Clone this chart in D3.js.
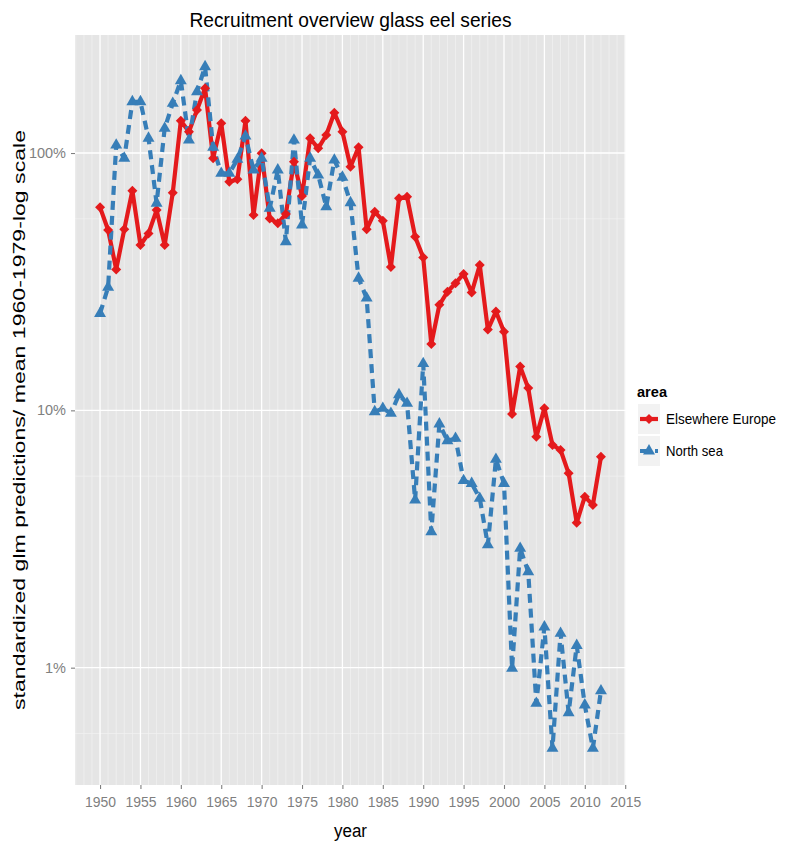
<!DOCTYPE html>
<html>
<head>
<meta charset="utf-8">
<script src="https://cdn.jsdelivr.net/npm/d3@7"></script>
<style>
  body { margin: 0; background: #ffffff; }
  text { font-family: "Liberation Sans", Arial, sans-serif; }
</style>
</head>
<body>
<svg id="chart" width="785" height="844"></svg>
<script>
// ---- data (percent of 1960-1979 mean) ----
const years = d3.range(1950, 2013);
const elsewhereEurope = [
  61.5, 50.2, 35.3, 50.5, 71.4, 43.9, 48.7, 60.0, 43.9, 70.1,
  133.5, 121, 146.9, 178.4, 95.4, 130.4, 77.4, 79.0, 133.5, 57.4,
  99.7, 55.7, 53.3, 57.9, 92.5, 68.1, 114.1, 104.3, 117.5, 143.4,
  121, 88.5, 105.2, 50.5, 59.1, 54.6, 36.1, 66.7, 67.6, 47.3,
  39.3, 18.1, 25.7, 28.9, 31.2, 33.9, 28.7, 36.7, 20.6, 24.2,
  20.2, 9.67, 14.8, 12.2, 7.89, 10.2, 7.33, 7.01, 5.69, 3.66,
  4.62, 4.29, 6.60
];
const northSea = [
  23.8, 30.1, 107.4, 95.4, 158.2, 158.2, 114.1, 63.8, 124.7, 156,
  191, 112.3, 173.1, 216.4, 105.2, 83.4, 83.4, 94.5, 116.4, 85.9,
  95.4, 61.0, 85.9, 45.2, 112.3, 52.5, 95.4, 82.1, 61.8, 93.9,
  80.5, 64.1, 32.6, 27.3, 9.88, 10.18, 9.74, 11.5, 10.65, 4.48,
  15.2, 3.37, 8.85, 7.62, 7.78, 5.33, 5.20, 4.55, 3.00, 6.45,
  5.20, 0.994, 2.91, 2.36, 0.727, 1.44, 0.486, 1.36, 0.668, 1.22,
  0.716, 0.486, 0.813
];
const seriesNames = ["Elsewhere Europe", "North sea"];
const seriesColors = ["#E41A1C", "#377EB8"];
const xTickYears = d3.range(1950, 2016, 5);
const yTickValues = [1, 10, 100];
const yTickLabels = ["1%", "10%", "100%"];
const yMinorValues = [0.555, 5.55, 55.5];

const series = [
  { name: seriesNames[0], color: seriesColors[0], values: elsewhereEurope, shape: "diamond", dash: null },
  { name: seriesNames[1], color: seriesColors[1], values: northSea, shape: "triangle", dash: "9,6" }
];

// ---- layout ----
const svg = d3.select("#chart");
const panel = { left: 75, right: 626, top: 35, bottom: 785 };

const x = d3.scaleLinear().domain([1946.9, 2015.1]).range([panel.left, panel.right]);
const y = d3.scaleLog().domain([0.35, 287.5]).range([panel.bottom, panel.top]);

// panel background
svg.append("rect")
  .attr("x", panel.left).attr("y", panel.top)
  .attr("width", panel.right - panel.left).attr("height", panel.bottom - panel.top)
  .attr("fill", "#E5E5E5");

const grid = svg.append("g");
// minor vertical (each year)
grid.selectAll("line.vmin").data(d3.range(1947, 2016).filter(v => v % 5 !== 0)).join("line")
  .attr("x1", d => x(d)).attr("x2", d => x(d))
  .attr("y1", panel.top).attr("y2", panel.bottom)
  .attr("stroke", "#F2F2F2").attr("stroke-width", 0.7);
// minor horizontal
grid.selectAll("line.hmin").data(yMinorValues).join("line")
  .attr("x1", panel.left).attr("x2", panel.right)
  .attr("y1", d => y(d)).attr("y2", d => y(d))
  .attr("stroke", "#F2F2F2").attr("stroke-width", 0.7);
// major vertical
grid.selectAll("line.vmaj").data(xTickYears).join("line")
  .attr("x1", d => x(d)).attr("x2", d => x(d))
  .attr("y1", panel.top).attr("y2", panel.bottom)
  .attr("stroke", "#FFFFFF").attr("stroke-width", 1.3);
// major horizontal
grid.selectAll("line.hmaj").data(yTickValues).join("line")
  .attr("x1", panel.left).attr("x2", panel.right)
  .attr("y1", d => y(d)).attr("y2", d => y(d))
  .attr("stroke", "#FFFFFF").attr("stroke-width", 1.3);

// ---- axes ----
const xAxis = d3.axisBottom(x).tickValues(xTickYears).tickFormat(d3.format("d")).tickSize(4).tickPadding(8);
const gx = svg.append("g").attr("transform", `translate(0,${panel.bottom})`).call(xAxis);
gx.select(".domain").remove();
gx.selectAll(".tick line").attr("stroke", "#7F7F7F").attr("stroke-width", 1.1);
gx.selectAll(".tick text").attr("fill", "#7F7F7F")
  .attr("font-size", 14.5).attr("font-family", "Liberation Sans, Arial, sans-serif")
  .attr("textLength", 31).attr("lengthAdjust", "spacingAndGlyphs");

const yAxis = d3.axisLeft(y).tickValues(yTickValues)
  .tickFormat((d, i) => yTickLabels[i]).tickSize(4).tickPadding(5);
const gy = svg.append("g").attr("transform", `translate(${panel.left},0)`).call(yAxis);
gy.select(".domain").remove();
gy.selectAll(".tick line").attr("stroke", "#7F7F7F").attr("stroke-width", 1.1);
gy.selectAll(".tick text").attr("fill", "#7F7F7F")
  .attr("font-size", 14.5).attr("font-family", "Liberation Sans, Arial, sans-serif");

// ---- lines ----
const line = d3.line().x((d, i) => x(years[i])).y(d => y(d));
series.forEach(s => {
  svg.append("path").datum(s.values)
    .attr("d", line)
    .attr("fill", "none")
    .attr("stroke", s.color)
    .attr("stroke-width", 4.2)
    .attr("stroke-linejoin", "round")
    .attr("stroke-dasharray", s.dash);
});

// ---- points ----
const diamond = d3.symbol().type(d3.symbolSquare).size(50);
const triangle = d3.symbol().type(d3.symbolTriangle).size(62);
series.forEach(s => {
  svg.append("g").selectAll("path").data(s.values).join("path")
    .attr("d", s.shape === "diamond" ? diamond : triangle)
    .attr("transform", (d, i) => `translate(${x(years[i])},${y(d)})` + (s.shape === "diamond" ? " rotate(45)" : ""))
    .attr("fill", s.color);
});

// ---- titles ----
svg.append("text")
  .attr("x", (panel.left + panel.right) / 2).attr("y", 27)
  .attr("text-anchor", "middle").attr("font-size", 20).attr("fill", "#000")
  .attr("textLength", 322).attr("lengthAdjust", "spacingAndGlyphs")
  .text("Recruitment overview glass eel series");

svg.append("text")
  .attr("x", (panel.left + panel.right) / 2).attr("y", 837)
  .attr("text-anchor", "middle").attr("font-size", 18).attr("fill", "#000")
  .attr("textLength", 33).attr("lengthAdjust", "spacingAndGlyphs")
  .text("year");

svg.append("text")
  .attr("transform", `translate(25,${(panel.top + panel.bottom) / 2 + 10}) rotate(-90)`)
  .attr("text-anchor", "middle").attr("font-size", 17).attr("fill", "#000")
  .attr("textLength", 580).attr("lengthAdjust", "spacingAndGlyphs")
  .text("standardized glm predictions/ mean 1960-1979-log scale");

// ---- legend ----
const lg = svg.append("g");
lg.append("text").attr("x", 637).attr("y", 397)
  .attr("font-size", 14).attr("font-weight", "bold").attr("fill", "#000")
  .attr("textLength", 30).attr("lengthAdjust", "spacingAndGlyphs")
  .text("area");
const keyW = 22, keyH = 30, keyX = 638, keyY0 = 404;
series.forEach((s, i) => {
  const ky = keyY0 + i * (keyH + 2);
  lg.append("rect").attr("x", keyX).attr("y", ky).attr("width", keyW).attr("height", keyH)
    .attr("fill", "#F2F2F2");
  lg.append("line").attr("x1", keyX + 2).attr("x2", keyX + keyW - 2)
    .attr("y1", ky + keyH / 2).attr("y2", ky + keyH / 2)
    .attr("stroke", s.color).attr("stroke-width", 4.2)
    .attr("stroke-dasharray", s.dash);
  lg.append("path")
    .attr("d", s.shape === "diamond" ? diamond : triangle)
    .attr("transform", `translate(${keyX + keyW / 2},${ky + keyH / 2})` + (s.shape === "diamond" ? " rotate(45)" : ""))
    .attr("fill", s.color);
  lg.append("text").attr("x", 666).attr("y", ky + keyH / 2 + 5)
    .attr("font-size", 14.5).attr("fill", "#000")
    .attr("textLength", i === 0 ? 110 : 57).attr("lengthAdjust", "spacingAndGlyphs")
    .text(s.name);
});
</script>
</body>
</html>
